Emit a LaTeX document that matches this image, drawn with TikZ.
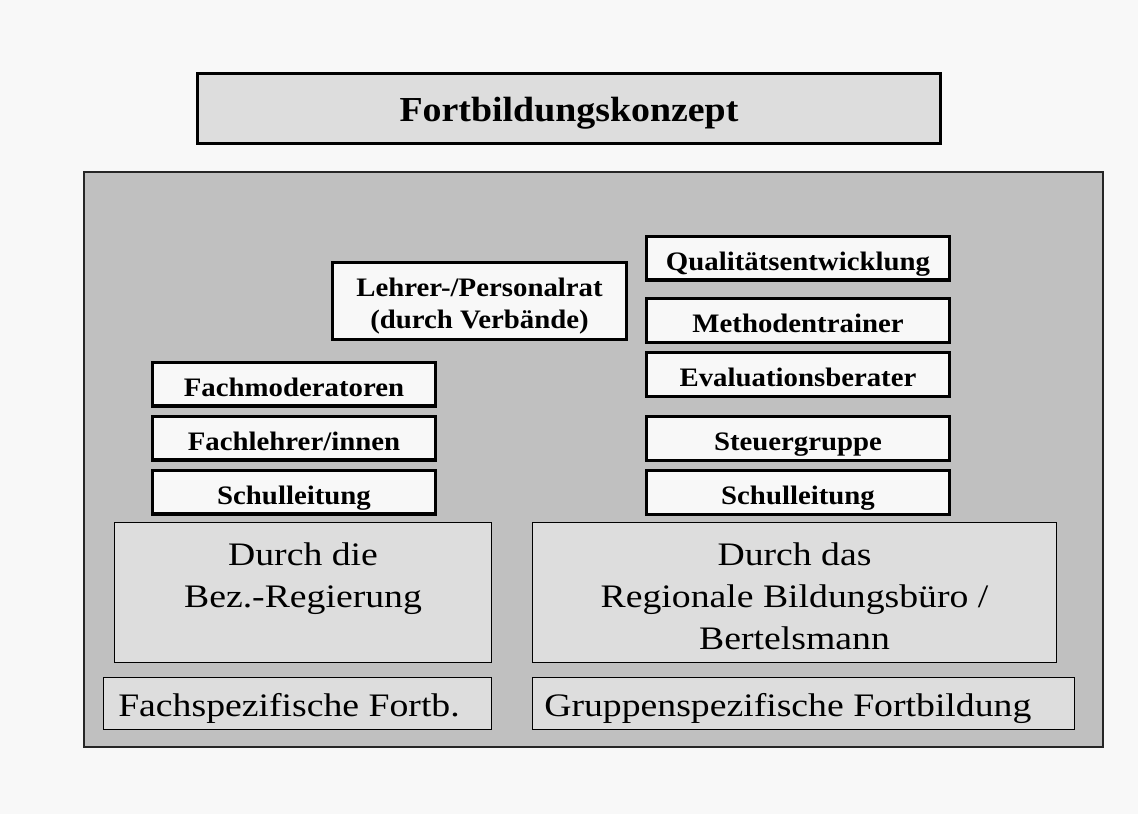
\documentclass[tikz,border=0pt]{standalone}
\usepackage{fontspec}
\setmainfont{Liberation Serif}
\newfontfamily\stackfont[FakeStretch=1.08]{Liberation Serif}
\newfontfamily\groundfont[FakeStretch=1.15]{Liberation Serif}
\usetikzlibrary{positioning}

\definecolor{pagegray}{HTML}{F8F8F8}
\definecolor{panelgray}{HTML}{C0C0C0}
\definecolor{boxgray}{HTML}{DDDDDD}

\tikzset{
  rolebox/.style={draw=black, line width=2.5pt, fill=pagegray, inner sep=0pt, outer sep=0pt,
    font=\stackfont\bfseries\fontsize{20}{24}\selectfont, align=center},
  oneline/.style={text height=18pt, text depth=0pt, minimum height=32.75pt},
  leftrole/.style={rolebox, oneline, minimum width=212pt},
  rightrole/.style={rolebox, oneline, minimum width=227pt},
  groundbox/.style={draw=black, line width=1.1pt, fill=boxgray, inner sep=0pt, outer sep=0pt},
  groundtext/.style={inner sep=0pt, align=center,
    font=\groundfont\fontsize{24.6}{31.5}\selectfont},
}

\begin{document}
\begin{tikzpicture}[x=0.75pt, y=-0.75pt]

  \fill[pagegray] (0,0) rectangle (1138,814);
  \useasboundingbox (0,0) rectangle (1138,814);

  \node[rolebox, fill=boxgray, minimum width=557pt, minimum height=52.25pt,
    text height=18.8pt, text depth=0pt,
    font=\stackfont\bfseries\fontsize{26.3}{30}\selectfont] (titel) at (569,108.5) {Fortbildungskonzept};

  \draw[fill=panelgray, draw=black!85, line width=1.1pt] (84,172) rectangle (1103,747);

  \node[rolebox, minimum width=220.25pt, minimum height=57.5pt] (lehrerrat) at (479.5,301) {};
  \node[rolebox, draw=none, fill=none, anchor=north] (lehrerrattext) [below=11.2pt of lehrerrat.north] {Lehrer-/Personalrat\\(durch Verbände)};

  % linke Seite
  \node[leftrole] (schulleitungL) at (294,492) {Schulleitung};
  \node[leftrole] (fachlehrer) [above=7.75pt of schulleitungL] {Fachlehrer/innen};
  \node[leftrole] (fachmod) [above=7.75pt of fachlehrer] {Fachmoderatoren};

  % rechte Seite
  \node[rightrole] (schulleitungR) at (798,492.5) {Schulleitung};
  \node[rightrole] (steuer) [above=7.75pt of schulleitungR] {Steuergruppe};
  \node[rightrole] (evaluation) [above=15.25pt of steuer] {Evaluationsberater};
  \node[rightrole] (methoden) [above=7.75pt of evaluation] {Methodentrainer};
  \node[rightrole] (quali) [above=14.1pt of methoden] {Qualitätsentwicklung};

  \node[groundbox, minimum width=282.4pt, minimum height=104.65pt] (bezreg) at (303,592.5) {};
  \node[groundbox, minimum width=392.65pt, minimum height=104.65pt] (buero) at (794.5,592.5) {};
  \node[groundtext, anchor=north] (bezregtext) [below=14.5pt of bezreg.north] {Durch die\\Bez.-Regierung};
  \node[groundtext, anchor=north] (buerotext) [below=14.5pt of buero.north] {Durch das\\Regionale Bildungsbüro /\\Bertelsmann};

  \node[groundbox, minimum width=290.65pt, minimum height=38.65pt] (fachspez) at (297.5,703.5) {};
  \node[groundbox, minimum width=406.15pt, minimum height=38.65pt] (gruppenspez) at (803.5,703.5) {};
  \node[groundtext, anchor=base west] (fachspeztext) at (118,716) {Fachspezifische Fortb.};
  \node[groundtext, anchor=base west] (gruppenspeztext) at (544,716) {Gruppenspezifische Fortbildung};

\end{tikzpicture}
\end{document}
